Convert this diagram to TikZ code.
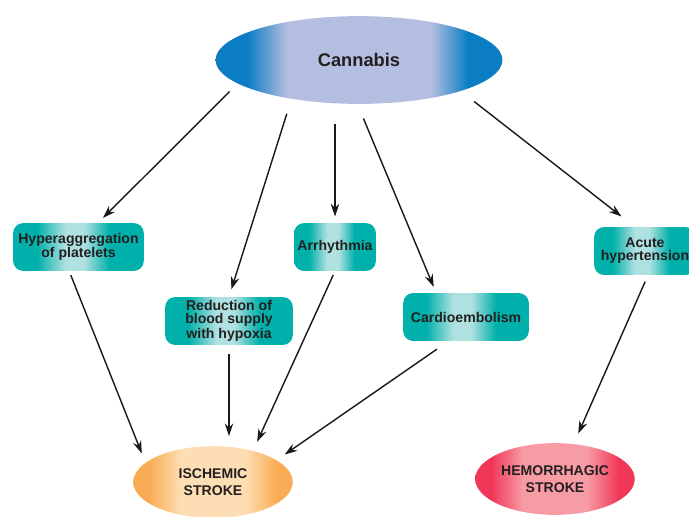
\documentclass[tikz,border=0pt]{standalone}
\usepackage{fontspec}
\setmainfont{Liberation Sans}
\usetikzlibrary{arrows.meta,shapes.geometric}

\definecolor{canedge}{RGB}{10,125,195}
\definecolor{canmid}{RGB}{180,190,225}
\definecolor{tealedge}{RGB}{0,176,170}
\definecolor{teallight}{RGB}{175,225,225}
\definecolor{ischedge}{RGB}{250,172,85}
\definecolor{ischlight}{RGB}{253,222,180}
\definecolor{hemedge}{RGB}{240,55,88}
\definecolor{hemlight}{RGB}{247,155,165}
\definecolor{textdark}{RGB}{35,31,32}

\pgfdeclarehorizontalshading{canshade}{100bp}{color(0bp)=(canedge); color(25bp)=(canedge); color(30.5bp)=(canedge); color(37.5bp)=(canmid); color(62.5bp)=(canmid); color(69bp)=(canedge); color(75bp)=(canedge); color(100bp)=(canedge)}
\pgfdeclarehorizontalshading{tealshade}{100bp}{color(0bp)=(tealedge); color(25bp)=(tealedge); color(34bp)=(tealedge); color(45bp)=(teallight); color(52bp)=(teallight); color(62bp)=(tealedge); color(75bp)=(tealedge); color(100bp)=(tealedge)}
\pgfdeclarehorizontalshading{ischshade}{100bp}{color(0bp)=(ischedge); color(25bp)=(ischedge); color(30bp)=(ischedge); color(40bp)=(ischlight); color(60bp)=(ischlight); color(70bp)=(ischedge); color(75bp)=(ischedge); color(100bp)=(ischedge)}
\pgfdeclarehorizontalshading{hemshade}{100bp}{color(0bp)=(hemedge); color(25bp)=(hemedge); color(30bp)=(hemedge); color(40bp)=(hemlight); color(60bp)=(hemlight); color(70bp)=(hemedge); color(75bp)=(hemedge); color(100bp)=(hemedge)}

\begin{document}
\begin{tikzpicture}[x=0.025cm,y=-0.025cm,
  box/.style={rectangle,rounded corners=7pt,shading=tealshade,minimum height=34pt,inner sep=1pt,align=center,text=textdark,font=\fontsize{10}{9.2}\selectfont\bfseries},
  stroke/.style={ellipse,minimum width=113.4pt,minimum height=51pt,inner sep=0pt,align=center,text=textdark,font=\fontsize{10}{12}\selectfont\bfseries},
  cause/.style={line width=1pt,draw=black!90,-{Stealth[length=9pt,width=6pt]}}]
\useasboundingbox (0,0) rectangle (689,516);
\fill[white] (0,0) rectangle (689,516);
\clip (0,0) rectangle (689,516);

% source
\node[ellipse,shading=canshade,minimum width=204pt,minimum height=62.4pt,inner sep=0pt,text=textdark,font=\fontsize{13}{15}\selectfont\bfseries] (can) at (359,60) {Cannabis};

% mechanisms
\node[box,minimum width=92.8pt] (hyp) at (78.5,247) {Hyperaggregation\\of platelets};
\node[box,minimum width=90.7pt] (red) at (229,321) {Reduction of\\blood supply\\with hypoxia};
\node[box,minimum width=58.1pt] (arr) at (335,247) {Arrhythmia};
\node[box,minimum width=89.3pt] (cardio) at (466,317) {Cardioembolism};
\node[box,minimum width=72.3pt] (acute) at (645,251) {Acute\\hypertension};

% outcomes
\node[stroke,shading=ischshade] (isch) at (213,482) {ISCHEMIC\\STROKE};
\node[stroke,shading=hemshade] (hem) at (555,479) {HEMORRHAGIC\\STROKE};

\draw[cause,shorten <=8pt,shorten >=5pt] (can.191) -- (hyp.51);
\draw[cause,shorten <=11pt,shorten >=5.5pt] (can.210) -- (red.north);
\draw[cause,shorten <=14pt,shorten >=4.5pt] (arr.north |- can.south) -- (arr.north);
\draw[cause,shorten <=11pt,shorten >=4.5pt] (can.268) -- (cardio.141);
\draw[cause,shorten <=12pt,shorten >=12pt] (can.343) -- (acute.113);

\draw[cause,shorten <=3pt,shorten >=7pt] (hyp.249) -- (isch.164);
\draw[cause,shorten <=6.5pt,shorten >=7pt] (red.south) -- (red.south |- isch.north);
\draw[cause,shorten <=3pt,shorten >=7pt] (arr.south) -- (isch.38);
\draw[cause,shorten <=10pt,shorten >=7pt] (cardio.234) -- (isch.19);
\draw[cause,shorten <=5pt,shorten >=8pt] (acute.277) -- (hem.62);
\end{tikzpicture}
\end{document}
